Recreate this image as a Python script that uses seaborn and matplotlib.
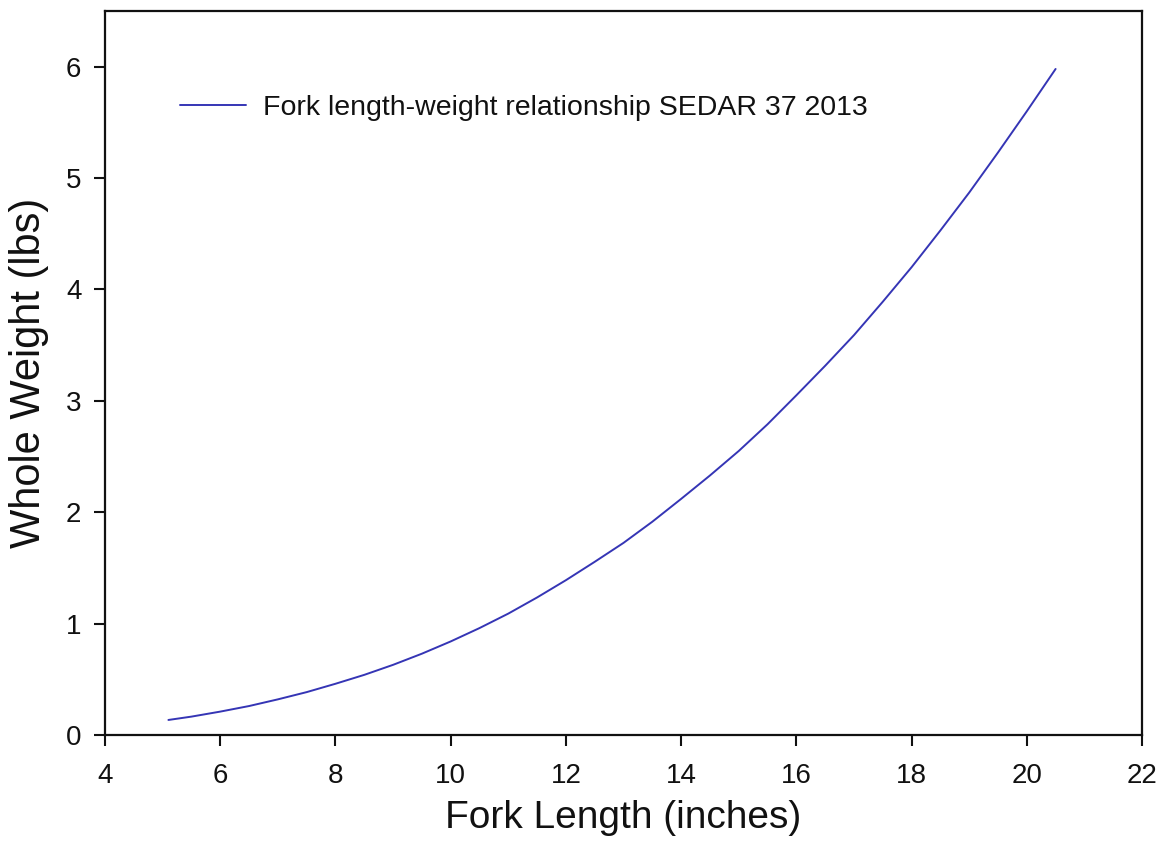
import matplotlib
matplotlib.use("Agg")
import matplotlib.pyplot as plt
import seaborn as sns
import pandas as pd

fork_length = [5.1, 5.5, 6, 6.5, 7, 7.5, 8, 8.5, 9, 9.5, 10, 10.5, 11, 11.5, 12, 12.5,
               13, 13.5, 14, 14.5, 15, 15.5, 16, 16.5, 17, 17.5, 18, 18.5, 19, 19.5, 20, 20.5]
whole_weight = [0.135, 0.165, 0.21, 0.26, 0.32, 0.385, 0.46, 0.54, 0.63, 0.73, 0.84, 0.96,
                1.09, 1.235, 1.39, 1.555, 1.725, 1.915, 2.12, 2.33, 2.55, 2.79, 3.05, 3.315,
                3.59, 3.89, 4.20, 4.53, 4.87, 5.23, 5.60, 5.98]
series_label = "Fork length-weight relationship SEDAR 37 2013"
x_ticks = [4, 6, 8, 10, 12, 14, 16, 18, 20, 22]
y_ticks = [0, 1, 2, 3, 4, 5, 6]

sns.set_style("ticks")
plt.rcParams['font.family'] = ['Liberation Sans', 'DejaVu Sans']

df = pd.DataFrame({"Fork Length": fork_length, "Whole Weight": whole_weight})

fig = plt.figure(figsize=(11.62, 8.5), dpi=100)
ax = fig.add_axes([0.0904, 0.1353, 0.8924, 0.8517])
sns.lineplot(data=df, x="Fork Length", y="Whole Weight", ax=ax, color="#3535b5",
             linewidth=1.4, label=series_label)

ax.set_xlim(4, 22)
ax.set_ylim(0, 6.5)
ax.set_xticks(x_ticks)
ax.set_yticks(y_ticks)
ax.set_xlabel("Fork Length (inches)", fontsize=28, labelpad=8, color='#111111')
ax.set_ylabel("Whole Weight (lbs)", fontsize=30, labelpad=12, color='#111111')
ax.tick_params(axis='x', pad=12)
ax.tick_params(axis='y', pad=9)
ax.tick_params(axis='both', labelsize=20, length=8, width=1.5, direction='out',
               colors='#111111')
for s in ax.spines.values():
    s.set_linewidth(1.6)
    s.set_color('#111111')
    s.set_visible(True)
ax.tick_params(top=False, right=False)

leg = ax.legend(loc='center left', bbox_to_anchor=(0.0723, 0.866), frameon=False,
                fontsize=20.5, handlelength=2.3, handletextpad=0.62,
                borderpad=0, borderaxespad=0)
for t in leg.get_texts():
    t.set_color('#111111')

fig.savefig("out.png", dpi=100)
